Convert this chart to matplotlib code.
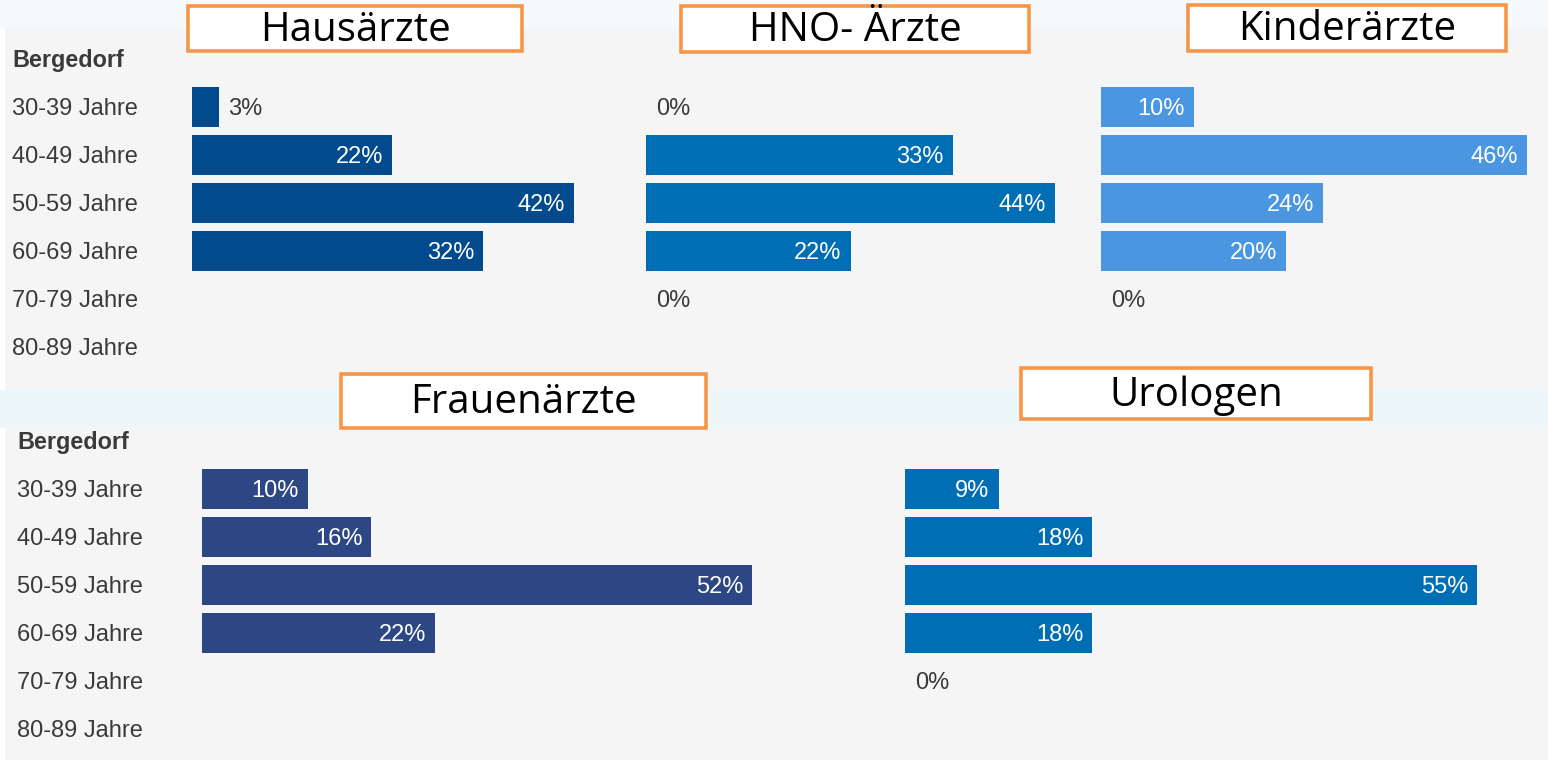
import matplotlib.pyplot as plt
import numpy as np
from matplotlib.patches import Rectangle

# Data (percent of doctors per age group, Bergedorf); nan = no label shown
age_groups = ["30-39 Jahre", "40-49 Jahre", "50-59 Jahre", "60-69 Jahre", "70-79 Jahre", "80-89 Jahre"]
region = "Bergedorf"

hausaerzte = [3, 22, 42, 32, np.nan, np.nan]
hno_aerzte = [0, 33, 44, 22, 0, np.nan]
kinderaerzte = [10, 46, 24, 20, 0, np.nan]
frauenaerzte = [10, 16, 52, 22, np.nan, np.nan]
urologen = [9, 18, 55, 18, 0, np.nan]

titles = ["Hausärzte", "HNO- Ärzte", "Kinderärzte", "Frauenärzte", "Urologen"]

W, H = 1548, 760
fig = plt.figure(figsize=(W / 100, H / 100), dpi=100)
fig.patch.set_facecolor("white")


def px_axes(x0, y0, w, h):
    # axes placed in pixel coords (origin top left)
    return fig.add_axes([x0 / W, 1 - (y0 + h) / H, w / W, h / H])


# background layer in pixel coordinates
bg = px_axes(0, 0, W, H)
bg.set_xlim(0, W)
bg.set_ylim(H, 0)
bg.axis("off")
bg.add_patch(Rectangle((0, 0), W, 28, color="#f6fafd", lw=0))
bg.add_patch(Rectangle((5, 28), W - 5, 362, color="#f5f5f5", lw=0))
bg.add_patch(Rectangle((0, 390), W, 38, color="#edf6fb", lw=0))
bg.add_patch(Rectangle((5, 428), W - 5, 332, color="#f5f5f5", lw=0))

label_font = dict(family="Liberation Sans", fontsize=17, color="#3a3a3a")

# row labels for top and bottom panels
for x_lab, y_first in [(12, 107), (17, 489)]:
    bg.text(x_lab, y_first - 48 + 1, region, ha="left", va="center", fontweight="bold",
            family="Liberation Sans", fontsize=16.8, color="#3a3a3a")
    for i, lab in enumerate(age_groups):
        bg.text(x_lab, y_first + 48 * i + 2, lab, ha="left", va="center", **label_font)

# title boxes (x0, y0, x1, y1)
boxes = [(188, 6, 522, 51), (681, 6, 1029, 52), (1188, 5, 1506, 51), (341, 374, 706, 428), (1021, 368, 1371, 419)]
for (x0, y0, x1, y1), t in zip(boxes, titles):
    bg.add_patch(Rectangle((x0, y0), x1 - x0, y1 - y0, facecolor="white", edgecolor="#f79646", lw=2.6))
    bg.text((x0 + x1) / 2, (y0 + y1) / 2 + 2, t, ha="center", va="center",
            family="Open Sans", fontsize=29, color="black")

charts = [
    # values, colour, bar start x, first row centre y, px per percent
    (hausaerzte, "#004a8d", 192, 107, 9.1),
    (hno_aerzte, "#006eb5", 646, 107, 9.3),
    (kinderaerzte, "#4a96e0", 1101, 107, 9.26),
    (frauenaerzte, "#2c4784", 202, 489, 10.58),
    (urologen, "#006eb5", 905, 489, 10.4),
]

row_px = 48
for values, colour, x0, y_first, scale in charts:
    width_px = 620
    ax = px_axes(x0, y_first - row_px / 2, width_px, row_px * len(age_groups))
    ax.set_xlim(0, width_px / scale)
    ax.set_ylim(len(age_groups) - 0.5, -0.5)
    ax.axis("off")
    ypos = np.arange(len(age_groups))
    vals = np.nan_to_num(np.array(values, dtype=float))
    ax.barh(ypos, vals, height=40 / row_px, color=colour, edgecolor="none")
    pad = 9 / scale
    for y, v in zip(ypos, values):
        if np.isnan(v):
            continue
        yt = y + 2 / row_px
        if v == 0:
            ax.text(10 / scale, yt, "0%", ha="left", va="center", **label_font)
        elif v < 5:
            ax.text(v + pad, yt, f"{v:.0f}%", ha="left", va="center", **label_font)
        else:
            ax.text(v - pad, yt, f"{v:.0f}%", ha="right", va="center",
                    family="Liberation Sans", fontsize=17, color="white")

fig.savefig("out.png", dpi=100)
